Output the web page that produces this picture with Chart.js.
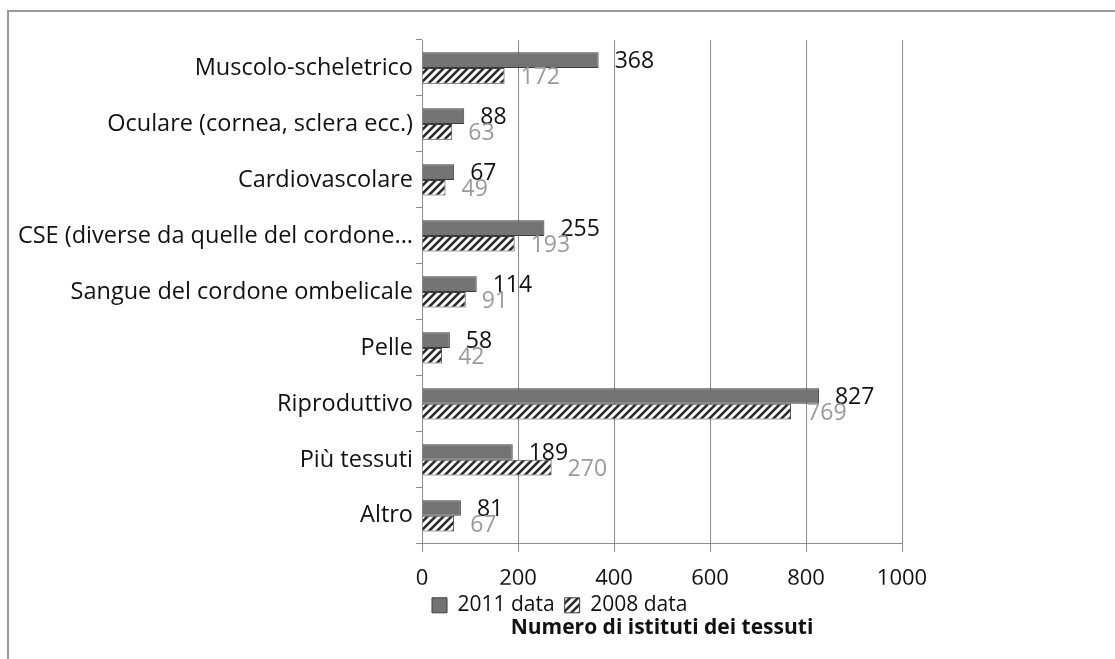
<!DOCTYPE html>
<html>
<head>
<meta charset="utf-8">
<script src="https://cdn.jsdelivr.net/npm/chart.js@4.4.0/dist/chart.umd.min.js"></script>
<style>
  html, body { margin: 0; padding: 0; background: #fff; }
  #wrap { position: relative; width: 1115px; height: 659px; overflow: hidden; }
  #frame { position: absolute; left: 7px; top: 10px; width: 1200px; height: 800px; border-left: 2px solid #9a9a9a; border-top: 2px solid #9a9a9a; }
  canvas { position: absolute; left: 0; top: 0; }
</style>
</head>
<body>
<div id="wrap">
  <div id="frame"></div>
  <canvas id="c" width="1115" height="659"></canvas>
</div>
<script>
const categories = [
  'Muscolo-scheletrico',
  'Oculare (cornea, sclera ecc.)',
  'Cardiovascolare',
  'CSE (diverse da quelle del cordone...',
  'Sangue del cordone ombelicale',
  'Pelle',
  'Riproduttivo',
  'Più tessuti',
  'Altro'
];
const series2011 = [368, 88, 67, 255, 114, 58, 827, 189, 81];
const series2008 = [172, 63, 49, 193, 91, 42, 769, 270, 67];
const seriesNames = ['2011 data', '2008 data'];
const xTicks = [0, 200, 400, 600, 800, 1000];
const axisTitle = 'Numero di istituti dei tessuti';

const FONT = "'Open Sans', 'DejaVu Sans', sans-serif";

function makeHatch() {
  const s = 8;
  const p = document.createElement('canvas');
  p.width = s; p.height = s;
  const g = p.getContext('2d');
  g.fillStyle = '#ffffff';
  g.fillRect(0, 0, s, s);
  g.strokeStyle = '#2a2a2a';
  g.lineWidth = 2.6;
  g.beginPath();
  g.moveTo(-2, s + 2); g.lineTo(s + 2, -2);
  g.moveTo(-2, 2); g.lineTo(2, -2);
  g.moveTo(s - 2, s + 2); g.lineTo(s + 2, s - 2);
  g.stroke();
  return document.getElementById('c').getContext('2d').createPattern(p, 'repeat');
}
const hatch = makeHatch();

const valueLabels = {
  id: 'valueLabels',
  afterDatasetsDraw(chart) {
    const ctx = chart.ctx;
    ctx.save();
    ctx.font = '23px ' + FONT;
    ctx.textAlign = 'left';
    ctx.textBaseline = 'middle';
    chart.data.datasets.forEach((ds, di) => {
      const meta = chart.getDatasetMeta(di);
      ctx.fillStyle = di === 0 ? '#111111' : '#9a9a9a';
      meta.data.forEach((el, i) => {
        ctx.fillText(String(ds.data[i]), el.x + 16, el.y + (di === 0 ? 1 : 2));
      });
    });
    ctx.restore();
  }
};

new Chart(document.getElementById('c'), {
  type: 'bar',
  data: {
    labels: categories,
    datasets: [
      {
        label: seriesNames[0],
        data: series2011,
        backgroundColor: '#737373',
        borderColor: '#3c3c3c',
        borderWidth: 1,
        barPercentage: 1,
        categoryPercentage: 0.56
      },
      {
        label: seriesNames[1],
        data: series2008,
        backgroundColor: hatch,
        borderColor: '#3c3c3c',
        borderWidth: 1,
        barPercentage: 1,
        categoryPercentage: 0.56
      }
    ]
  },
  options: {
    indexAxis: 'y',
    responsive: false,
    animation: false,
    devicePixelRatio: 1,
    layout: { padding: { left: 0, right: 213, top: 40, bottom: 18 } },
    scales: {
      x: {
        min: 0,
        max: 1000,
        afterBuildTicks(scale) { scale.ticks = xTicks.map(v => ({ value: v })); },
        afterFit(scale) { scale.height = 41; },
        grid: { color: '#8c8c8c', lineWidth: 1, tickLength: 8, drawTicks: true },
        border: { color: '#8c8c8c', width: 1 },
        ticks: {
          color: '#111',
          font: { family: FONT, size: 22 },
          padding: 14,
          maxRotation: 0,
          callback: (v) => String(v)
        }
      },
      y: {
        afterFit(scale) { scale.width = 422; },
        grid: { display: true, drawOnChartArea: false, drawTicks: true, tickLength: 6, color: '#8c8c8c', offset: true },
        border: { color: '#8c8c8c', width: 1 },
        ticks: { color: '#111', font: { family: FONT, size: 23.5 }, padding: 3, autoSkip: false }
      }
    },
    plugins: {
      legend: {
        position: 'bottom',
        fullSize: false,
        align: 'start',
        labels: {
          color: '#111',
          font: { family: FONT, size: 21 },
          boxWidth: 15,
          boxHeight: 15,
          padding: 10
        }
      },
      title: {
        display: true,
        text: axisTitle,
        position: 'bottom',
        fullSize: false,
        color: '#111',
        font: { family: FONT, size: 21, weight: 'bold' },
        padding: { top: -10, bottom: 0 }
      },
      tooltip: { enabled: false }
    }
  },
  plugins: [valueLabels]
});
</script>
</body>
</html>
